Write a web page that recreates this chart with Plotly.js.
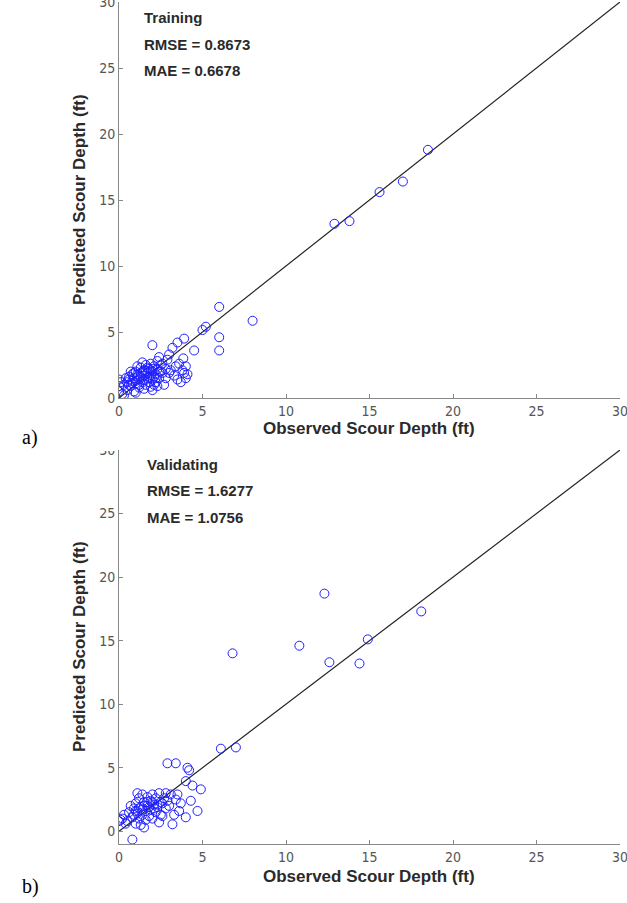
<!DOCTYPE html>
<html><head><meta charset="utf-8">
<script src="https://cdn.plot.ly/plotly-3.0.1.min.js"></script>
<style>html,body{margin:0;padding:0;background:#fff;width:627px;height:903px;overflow:hidden;position:relative;}
#chart{position:absolute;left:0;top:-10px;width:640px;height:913px;}</style>
</head><body><div id="chart"></div>
<script>
// ---- Data (observed, predicted scour depth, ft) ----
const trainObs = [12.9,13.8,15.6,17.0,18.5,8.0,6.0,5.0,5.2,6.0,6.0,
  2.0,3.5,3.9,4.5,3.85,4.0,4.1,3.1,2.9,2.4,3.5,2.7,1.9,3.3,3.8,3.0,2.6,4.0,3.6,3.2,2.8,2.2,2.5,3.4,
  0,0,0,0.1,0.2,0.3,0.4,0.5,0.5,0.6,0.7,0.8,0.8,0.9,0.9,1.0,1.0,1.1,1.2,1.2,1.3,1.3,1.4,1.5,1.5,1.6,1.6,1.7,1.7,1.8,1.8,1.9,1.9,2.0,2.0,2.1,2.1,2.2,2.3,2.3,2.4,2.5,1.1,0.7,1.4,2.6,1.2,0.6,
  1.0,1.5,2.0,2.3,0.3,
  0.9,1.1,1.3,1.5,1.6,1.8,2.0,2.2,0.6,0.8,1.0,1.4,1.7,1.9,2.1,2.4,2.8,3.0,3.7,3.9];
const trainPred = [13.2,13.4,15.6,16.4,18.8,5.85,6.9,5.15,5.4,4.6,3.6,
  4.0,4.2,4.5,3.6,3.0,2.4,1.8,2.1,2.9,3.1,1.4,1.0,0.85,1.7,2.1,3.3,2.6,1.5,2.6,3.8,1.5,1.2,2.0,2.4,
  1.4,0.9,0.5,1.2,0.3,1.0,1.5,0.6,1.2,1.6,0.9,1.3,1.8,0.5,1.5,1.1,2.0,1.6,0.8,1.4,1.9,2.3,1.2,1.7,2.1,1.0,2.5,1.5,1.9,2.2,1.2,1.7,2.6,2.0,1.4,2.4,1.0,1.8,2.2,2.8,1.5,2.5,2.4,2.0,2.7,1.9,1.0,1.0,
  0.4,0.7,0.6,0.9,0.2,
  1.9,1.8,1.6,1.4,2.0,1.6,2.2,1.5,1.4,1.1,1.3,2.0,2.3,2.1,1.6,2.0,2.2,1.9,1.2,1.9];
const validObs = [6.8,10.8,12.3,12.6,14.4,14.9,18.1,6.1,7.0,
  2.9,3.4,4.1,4.2,4.0,4.4,4.9,4.3,4.7,4.0,3.2,0.8,0,1.5,3.4,3.0,3.6,3.3,2.6,2.8,3.1,3.7,2.4,
  0.2,0.3,0.5,0.6,0.8,0.9,1.0,1.0,1.1,1.2,1.2,1.3,1.4,1.4,1.5,1.6,1.6,1.7,1.7,1.8,1.9,1.9,2.0,2.0,2.1,2.2,2.2,2.3,2.4,2.5,2.5,2.7,2.8,0.7,0.4,1.3,2.9,3.5,1.1,0.1,
  1.0,1.2,1.5,1.8,2.0,2.3,1.4,1.7,2.1,0.9,2.6];
const validPred = [14.0,14.6,18.7,13.3,13.2,15.1,17.3,6.5,6.6,
  5.35,5.35,5.0,4.8,3.95,3.6,3.3,2.4,1.6,1.1,0.55,-0.65,0.8,0.3,2.5,2.0,1.6,1.3,1.2,3.0,2.9,2.2,0.7,
  1.0,1.3,0.8,1.5,1.1,1.8,2.2,0.6,1.4,2.6,1.0,1.9,2.9,1.3,2.3,1.6,0.9,2.0,2.7,1.2,2.4,1.7,2.9,1.0,2.1,1.5,2.6,1.9,3.0,2.3,1.3,2.6,1.8,2.0,0.6,0.5,2.4,2.9,3.0,0.9,
  1.6,1.8,2.0,1.9,2.3,2.1,1.7,2.3,1.8,1.3,2.2];
const lineX = [0, 30];
const lineY = [0, 30];
const tickVals = [0,5,10,15,20,25,30];
const tickText = ['0','5','10','15','20','25','30'];
const panelNames = ['Training','Validating'];
const rmseVals = ['0.8673','1.6277'];
const maeVals = ['0.6678','1.0756'];
const xTitle = 'Observed Scour Depth (ft)';
const yTitle = 'Predicted Scour Depth (ft)';
const panelTags = ['a)','b)'];

// The figure is drawn slightly larger than the window (like the cropped original)
const W = 640, H = 913, OFF = 10;
const px = v => v / W;
const py = v => 1 - (v + OFF) / H;

const markerStyle = {symbol:'circle-open', size:9, color:'#1f1fff', line:{width:1, color:'#1f1fff'}};
const lineStyle = {color:'#222222', width:1.2};

const data = [
  {x:lineX, y:lineY, mode:'lines', line:lineStyle, xaxis:'x', yaxis:'y', hoverinfo:'skip'},
  {x:trainObs, y:trainPred, mode:'markers', marker:markerStyle, xaxis:'x', yaxis:'y'},
  {x:lineX, y:lineY, mode:'lines', line:lineStyle, xaxis:'x2', yaxis:'y2', hoverinfo:'skip'},
  {x:validObs, y:validPred, mode:'markers', marker:markerStyle, xaxis:'x2', yaxis:'y2'}
];

const tickFont = {family:'Liberation Sans Narrow, DejaVu Sans Condensed, Arial Narrow, sans-serif', size:14, color:'#555'};
function axis(extra){
  return Object.assign({
    tickmode:'array', tickvals:tickVals, ticktext:tickText,
    ticks:'inside', ticklen:4, tickcolor:'#888', tickwidth:1,
    showline:true, linecolor:'#888', linewidth:1, mirror:false,
    showgrid:false, zeroline:false, tickfont:tickFont, fixedrange:true
  }, extra);
}

const xDom = [px(119), px(620)];
const layout = {
  width:W, height:H, margin:{l:0,r:0,t:0,b:0},
  paper_bgcolor:'#fff', plot_bgcolor:'#fff', showlegend:false,
  xaxis: axis({domain:xDom, range:[0,30], anchor:'y'}),
  yaxis: axis({domain:[py(398), py(2)], range:[0,30], anchor:'x'}),
  xaxis2: axis({domain:xDom, range:[0,30], anchor:'y2'}),
  yaxis2: axis({domain:[py(844), py(450)], range:[-1,30], anchor:'x2'}),
  annotations: [],
  shapes: [
    // white band where the original figure was cropped above the lower panel
    {type:'rect', xref:'paper', yref:'paper', x0:px(90), x1:px(118), y0:py(451), y1:py(440),
     fillcolor:'#fff', line:{width:0}, layer:'above'}
  ]
};

const boldFont = {family:'Liberation Sans, Arial, sans-serif', size:15, color:'#2a2a2a'};
const titleFont = {family:'Liberation Sans, Arial, sans-serif', size:17, color:'#2a2a2a'};
const tops = [{nameY:17, rmseY:44, maeY:70, textX:142, xtY:429, tagY:437, ycY:200},
              {nameY:465, rmseY:491, maeY:517, textX:145, xtY:876, tagY:886, ycY:647}];
tops.forEach((t,i)=>{
  const lines = [[panelNames[i], t.nameY], ['RMSE = '+rmseVals[i], t.rmseY], ['MAE = '+maeVals[i], t.maeY]];
  lines.forEach(([txt,yy])=>{
    layout.annotations.push({text:'<b>'+txt+'</b>', xref:'paper', yref:'paper', x:px(t.textX), y:py(yy),
      xanchor:'left', yanchor:'middle', showarrow:false, font:boldFont});
  });
  layout.annotations.push({text:'<b>'+xTitle+'</b>', xref:'paper', yref:'paper', x:px(369), y:py(t.xtY),
    xanchor:'center', yanchor:'middle', showarrow:false, font:titleFont});
  layout.annotations.push({text:'<b>'+yTitle+'</b>', xref:'paper', yref:'paper', x:px(79), y:py(t.ycY),
    xanchor:'center', yanchor:'middle', textangle:-90, showarrow:false, font:titleFont});
  layout.annotations.push({text:panelTags[i], xref:'paper', yref:'paper', x:px(20), y:py(t.tagY),
    xanchor:'left', yanchor:'middle', showarrow:false, font:{family:'Liberation Serif, Times New Roman, serif', size:20, color:'#000'}});
});

Plotly.newPlot('chart', data, layout, {staticPlot:true, displayModeBar:false});
</script>
</body></html>
